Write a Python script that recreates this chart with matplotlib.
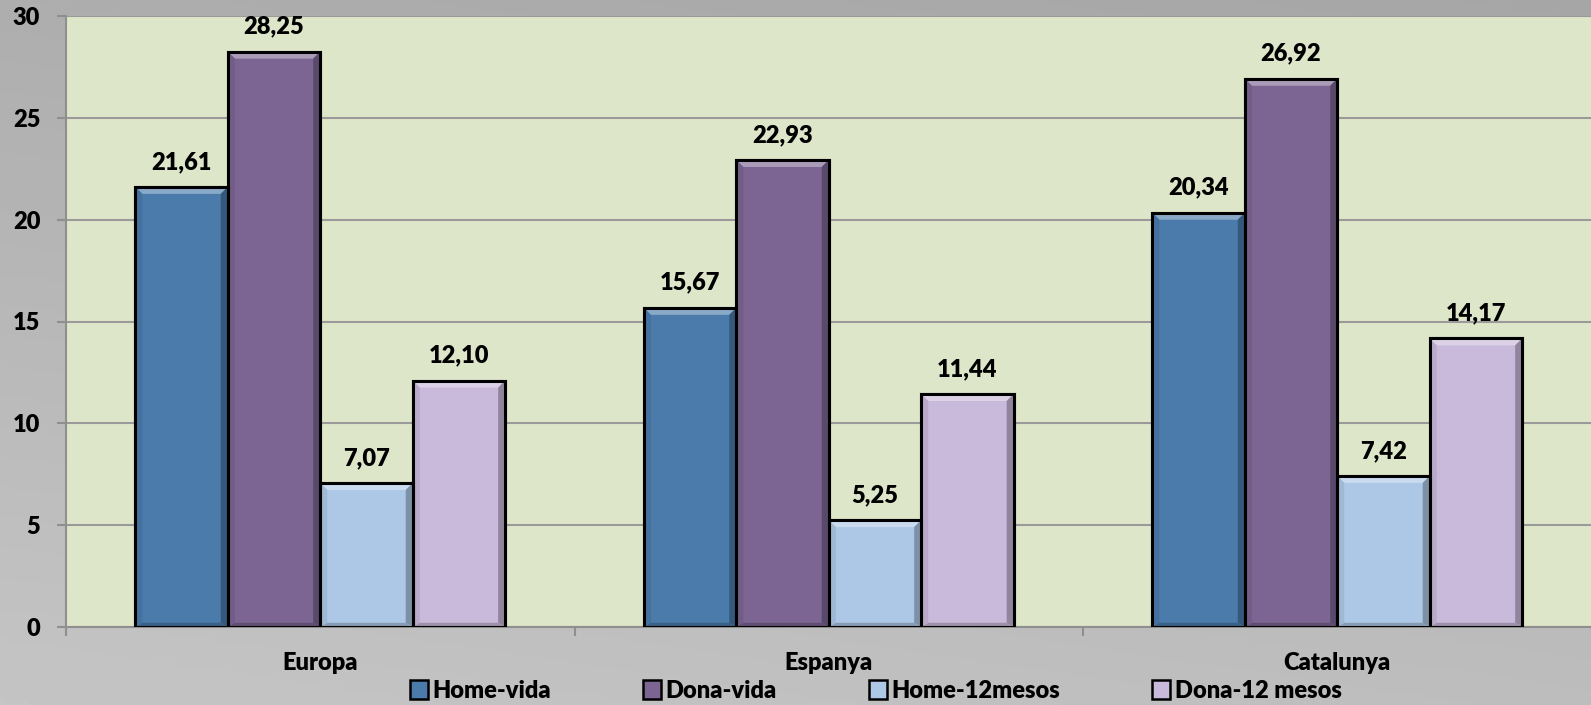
import numpy as np
import matplotlib
matplotlib.use("Agg")
import matplotlib.pyplot as plt
from matplotlib.patches import Polygon, Patch
from matplotlib.colors import to_rgb

# ---- data ----
categories = ["Europa", "Espanya", "Catalunya"]
series_names = ["Home-vida", "Dona-vida", "Home-12mesos", "Dona-12 mesos"]
home_vida = [21.61, 15.67, 20.34]
dona_vida = [28.25, 22.93, 26.92]
home_12mesos = [7.07, 5.25, 7.42]
dona_12mesos = [12.10, 11.44, 14.17]
y_ticks = [0, 5, 10, 15, 20, 25, 30]

series_values = [home_vida, dona_vida, home_12mesos, dona_12mesos]
colors = ["#4a7bab", "#7c6593", "#adc8e6", "#c9b9da"]

plt.rcParams["font.family"] = ["Lato", "DejaVu Sans"]
WEIGHT = "heavy"
plt.rcParams["font.weight"] = WEIGHT
FS = 17

W, H, DPI = 1591, 705, 100
fig = plt.figure(figsize=(W / DPI, H / DPI), dpi=DPI)

# gray gradient figure background
bg = fig.add_axes([0, 0, 1, 1], zorder=-10)
yy, xx = np.mgrid[0:1:200j, 0:1:400j]
shade = 0.68 + 0.09 * yy - 0.03 * xx
bg.imshow(shade, cmap="gray", vmin=0, vmax=1, aspect="auto",
          extent=[0, 1, 0, 1], origin="upper")
bg.set_axis_off()

left_px, top_px, bottom_px = 66, 16, 627
ax = fig.add_axes([left_px / W, 1 - bottom_px / H,
                   (3 * 508.5) / W, (bottom_px - top_px) / H])
ax.set_facecolor("#dee6c9")
ax.set_xlim(-0.5, len(categories) - 0.5)
ax.set_ylim(0, 30)

# gridlines
ax.set_yticks(y_ticks)
ax.yaxis.grid(True, color="#9a9a9a", linewidth=1.5, zorder=0)
ax.set_axisbelow(True)

for s in ["top", "right"]:
    ax.spines[s].set_visible(False)
for s in ["left", "bottom"]:
    ax.spines[s].set_color("#8f8f8f")
    ax.spines[s].set_linewidth(1.5)

n = len(series_values)
bw = 1 / 5.5  # gap width 150%
x = np.arange(len(categories))

# pixel -> data conversion for bevel size
px_x = (ax.get_xlim()[1] - ax.get_xlim()[0]) / (3 * 508.5)
px_y = 30 / (bottom_px - top_px)
bev = 7


def blend(c, other, t):
    c = np.array(to_rgb(c))
    o = np.array(to_rgb(other))
    return tuple(c * (1 - t) + o * t)


for i, (vals, col, name) in enumerate(zip(series_values, colors, series_names)):
    pos = x + (i - (n - 1) / 2) * bw
    bars = ax.bar(pos, vals, width=bw, color=col, edgecolor="black",
                  linewidth=2.2, zorder=3, label=name)
    for b, v in zip(bars, vals):
        x0, x1 = b.get_x(), b.get_x() + b.get_width()
        y0, y1 = 0, b.get_height()
        dx, dy = bev * px_x, bev * px_y
        ix0, ix1, iy0, iy1 = x0 + dx, x1 - dx, y0 + dy * 0.6, y1 - dy
        faces = [
            ([(x0, y1), (x1, y1), (ix1, iy1), (ix0, iy1)], blend(col, "white", 0.35)),
            ([(x1, y1), (x1, y0), (ix1, iy0), (ix1, iy1)], blend(col, "black", 0.28)),
            ([(x0, y0), (x1, y0), (ix1, iy0), (ix0, iy0)], blend(col, "black", 0.22)),
            ([(x0, y1), (x0, y0), (ix0, iy0), (ix0, iy1)], blend(col, "black", 0.08)),
        ]
        for pts, fc in faces:
            ax.add_patch(Polygon(pts, closed=True, facecolor=fc,
                                 edgecolor="none", zorder=3.5))
        # outline on top of the bevel faces
        ax.add_patch(Polygon([(x0, y0), (x0, y1), (x1, y1), (x1, y0)],
                             closed=True, fill=False, edgecolor="black",
                             linewidth=2.2, zorder=4))
        ax.annotate(f"{v:.2f}".replace(".", ","), (b.get_x() + b.get_width() / 2, v),
                    xytext=(0, 13), textcoords="offset points",
                    ha="center", va="baseline", fontsize=FS, fontweight=WEIGHT,
                    color="black", zorder=5)

# axes ticks
ax.set_yticklabels([str(t) for t in y_ticks], fontsize=FS, fontweight=WEIGHT)
ax.tick_params(axis="y", length=6.5, width=1.5, color="#8f8f8f", pad=12)
ax.set_xticks(x)
ax.set_xticklabels(categories, fontsize=FS, fontweight=WEIGHT)
ax.tick_params(axis="x", which="major", length=0, pad=18)
ax.set_xticks(np.arange(-0.5, len(categories), 1.0), minor=True)
ax.tick_params(axis="x", which="minor", length=6.5, width=1.5, color="#8f8f8f")

# legend
handles = [Patch(facecolor=c, edgecolor="black", linewidth=1.8) for c in colors]
fig.legend(handles, series_names, loc="center", bbox_to_anchor=(876 / W, 1 - 691 / H),
           ncol=4, frameon=False, handlelength=0.75, handleheight=0.85,
           handletextpad=0.2, columnspacing=3.9, borderpad=0,
           prop={"weight": WEIGHT, "size": FS})

fig.savefig("out.png", dpi=DPI)
